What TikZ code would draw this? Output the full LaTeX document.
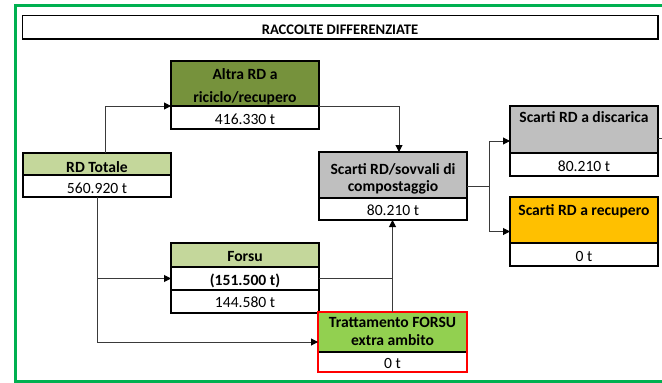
\documentclass[tikz,border=0pt]{standalone}
\usepackage{fontspec}
\setmainfont{Carlito}
\usetikzlibrary{arrows.meta}

\definecolor{framegreen}{HTML}{00B050}
\definecolor{olivegreen}{HTML}{76923C}
\definecolor{palegreen}{HTML}{C4D79B}
\definecolor{limegreen}{HTML}{92D050}
\definecolor{cellgray}{HTML}{BFBFBF}
\definecolor{amber}{HTML}{FFC000}
\definecolor{linegray}{HTML}{3A3A3A}

\tikzset{
  cell/.style={draw=black, line width=1.5pt, anchor=north west, inner sep=0pt, outer sep=0pt},
  boxarea/.style={anchor=north west, inner sep=0pt, outer sep=0pt},
  hdr/.style={anchor=base, inner sep=0pt, font=\fontsize{15.6}{18}\selectfont\bfseries},
  val/.style={anchor=base, inner sep=0pt, font=\fontsize{15.6}{18}\selectfont},
  link/.style={draw=linegray, line width=1pt},
  arr/.style={link, -{Triangle[length=7pt,width=7pt,color=black]}}
}

\begin{document}
\begin{tikzpicture}[x=1pt,y=-1pt]
\useasboundingbox (0,0) rectangle (662,383);

% outer green frame, open on the right
\draw[framegreen, line width=3pt] (668,5.5) -- (15.5,5.5) -- (15.5,381) -- (668,381);

% title bar
\node[cell, minimum width=635.5pt, minimum height=23.5pt] (title) at (22.5,15.5) {};
\node[anchor=base, inner sep=0pt, font=\fontsize{14.6}{16}\selectfont\bfseries] (titletext) at (340,34) {RACCOLTE DIFFERENZIATE};

% RD Totale
\node[boxarea, minimum width=148pt, minimum height=44pt] (rdtot) at (23,153) {};
\node[cell, fill=palegreen, minimum width=148pt, minimum height=22pt] (rdtot-h) at (23,153) {};
\node[cell, fill=white, minimum width=148pt, minimum height=22pt] (rdtot-v) at (23,175) {};
\node[hdr] (rdtot-t) at (97,172) {RD Totale};
\node[val] (rdtot-n) at (97,193) {560.920 t};

% Altra RD a riciclo/recupero
\node[boxarea, minimum width=148pt, minimum height=68pt] (altra) at (171,61) {};
\node[cell, fill=olivegreen, minimum width=148pt, minimum height=45pt] (altra-h) at (171,61) {};
\node[cell, fill=white, minimum width=148pt, minimum height=23pt] (altra-v) at (171,106) {};
\node[hdr] (altra-t1) at (245,79) {Altra RD a};
\node[hdr] (altra-t2) at (245,102) {riciclo/recupero};
\node[val] (altra-n) at (245,124.5) {416.330 t};

% Scarti RD / sovvali di compostaggio
\node[boxarea, minimum width=148pt, minimum height=68pt] (sovvali) at (319,152) {};
\node[cell, fill=cellgray, minimum width=148pt, minimum height=46pt] (sovvali-h) at (319,152) {};
\node[cell, fill=white, minimum width=148pt, minimum height=22pt] (sovvali-v) at (319,198) {};
\node[hdr] (sovvali-t1) at (393,174) {Scarti RD/sovvali di};
\node[hdr] (sovvali-t2) at (393,191) {compostaggio};
\node[val] (sovvali-n) at (393,215) {80.210 t};

% Scarti RD a discarica
\node[boxarea, minimum width=148pt, minimum height=70pt] (discarica) at (510,106) {};
\node[cell, fill=cellgray, minimum width=148pt, minimum height=47pt] (discarica-h) at (510,106) {};
\node[cell, fill=white, minimum width=148pt, minimum height=23pt] (discarica-v) at (510,153) {};
\node[hdr] (discarica-t) at (584,122) {Scarti RD a discarica};
\node[val] (discarica-n) at (584,171) {80.210 t};

% Scarti RD a recupero
\node[boxarea, minimum width=148pt, minimum height=69pt] (recupero) at (510,197) {};
\node[cell, fill=amber, minimum width=148pt, minimum height=46pt] (recupero-h) at (510,197) {};
\node[cell, fill=white, minimum width=148pt, minimum height=23pt] (recupero-v) at (510,243) {};
\node[hdr] (recupero-t) at (584,215) {Scarti RD a recupero};
\node[val] (recupero-n) at (584,261.5) {0 t};

% Forsu
\node[boxarea, minimum width=148pt, minimum height=70pt] (forsu) at (171,243) {};
\node[cell, fill=palegreen, minimum width=148pt, minimum height=24pt] (forsu-h) at (171,243) {};
\node[cell, fill=white, minimum width=148pt, minimum height=23pt] (forsu-m) at (171,267) {};
\node[cell, fill=white, minimum width=148pt, minimum height=23pt] (forsu-v) at (171,290) {};
\node[hdr] (forsu-t) at (245,261) {Forsu};
\node[hdr] (forsu-g) at (245,285) {(151.500 t)};
\node[val] (forsu-n) at (245,307.5) {144.580 t};

% Trattamento FORSU extra ambito (red outline)
\node[cell, fill=limegreen, minimum width=149pt, minimum height=40pt] (tratt-h) at (318,312) {};
\node[cell, fill=white, minimum width=149pt, minimum height=20pt] (tratt-v) at (318,352) {};
\node[boxarea, draw=red, line width=2.2pt, minimum width=149pt, minimum height=60pt] (tratt) at (318,312) {};
\node[hdr] (tratt-t1) at (392.5,327) {Trattamento FORSU};
\node[hdr] (tratt-t2) at (392.5,345) {extra ambito};
\node[val] (tratt-n) at (392.5,368) {0 t};

% connectors
\coordinate (split) at ([xshift=22pt]sovvali.east);
\coordinate (offright) at (668,138);

\draw[arr] ([xshift=8pt]rdtot-h.north) |- (altra-v.north west);
\draw[arr] (altra-v.north east) -| ([xshift=6pt]sovvali-h.north);
\draw[arr] (rdtot-v.south) |- (tratt.west);
\draw[arr] (rdtot-v.south |- forsu-m.west) -- (forsu-m.west);
\draw[link] (forsu-m.east) -| (sovvali-v.south |- forsu-m.east);
\draw[arr] (tratt.north) -- (tratt.north |- sovvali-v.south);
\draw[link] (sovvali.east) -- (split);
\draw[arr] (split) |- (discarica.west);
\draw[arr] (split) |- (recupero.west);
\draw[link] (discarica-h.east |- offright) -- (offright);
\end{tikzpicture}
\end{document}
